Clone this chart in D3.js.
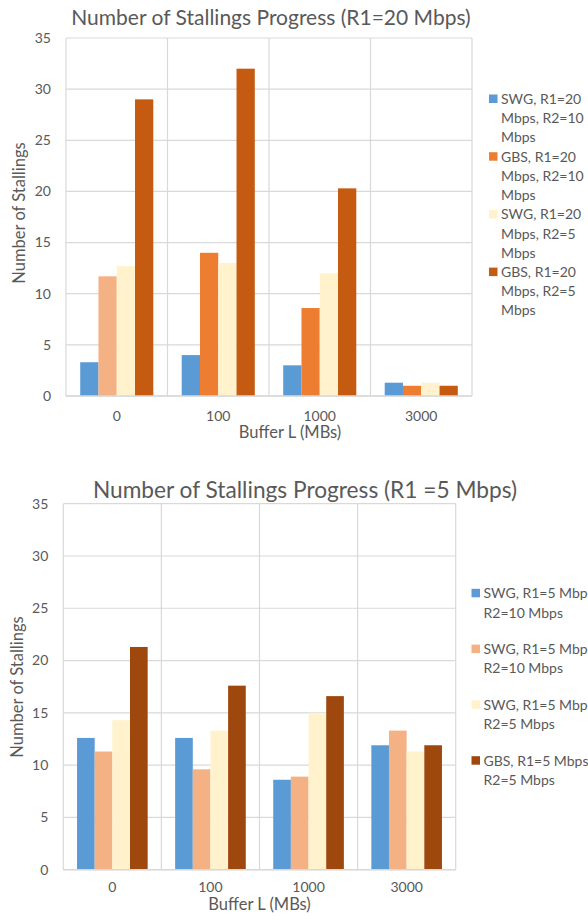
<!DOCTYPE html>
<html>
<head>
<meta charset="utf-8">
<script src="https://cdn.jsdelivr.net/npm/d3@7"></script>
<style>
  html, body { margin: 0; padding: 0; background: #fff; }
  svg { display: block; }
  text { font-family: Lato, "Open Sans", sans-serif; fill: #595959; }
</style>
</head>
<body>
<svg id="chart" width="588" height="916"></svg>
<script>
// Buffer sizes on the category axis (shared by both panels)
const bufferSizes = ["0", "100", "1000", "3000"];
const yTicks = [0, 5, 10, 15, 20, 25, 30, 35];

// Panel 1: R1 = 20 Mbps
const topSeriesNames = [
  ["SWG, R1=20", "Mbps, R2=10", "Mbps"],
  ["GBS, R1=20", "Mbps, R2=10", "Mbps"],
  ["SWG, R1=20", "Mbps, R2=5", "Mbps"],
  ["GBS, R1=20", "Mbps, R2=5", "Mbps"]
];
const topSwgR2_10 = [3.3, 4.0, 3.0, 1.3];
const topGbsR2_10 = [11.7, 14.0, 8.6, 1.0];
const topSwgR2_5  = [12.7, 13.0, 12.0, 1.3];
const topGbsR2_5  = [29.0, 32.0, 20.3, 1.0];

// Panel 2: R1 = 5 Mbps
const bottomSeriesNames = [
  ["SWG, R1=5 Mbps,", "R2=10 Mbps"],
  ["SWG, R1=5 Mbps,", "R2=10 Mbps"],
  ["SWG, R1=5 Mbps,", "R2=5 Mbps"],
  ["GBS, R1=5 Mbps,", "R2=5 Mbps"]
];
const bottomSeries1 = [12.6, 12.6, 8.6, 11.9];
const bottomSeries2 = [11.3, 9.6, 8.9, 13.3];
const bottomSeries3 = [14.3, 13.3, 15.0, 11.3];
const bottomSeries4 = [21.3, 17.6, 16.6, 11.9];

const svg = d3.select("#chart");

function drawPanel(cfg) {
  const g = svg.append("g");
  const x = d3.scaleBand().domain(bufferSizes).range([cfg.left, cfg.right]).paddingInner(0).paddingOuter(0);
  const groupW = x.bandwidth() * 0.72;
  const xs = d3.scaleBand().domain(d3.range(cfg.series.length))
    .range([(x.bandwidth() - groupW) / 2, (x.bandwidth() + groupW) / 2]);
  const y = d3.scaleLinear().domain([0, 35]).range([cfg.bottom, cfg.top]);

  // horizontal gridlines
  g.append("g").selectAll("line").data(yTicks).join("line")
    .attr("x1", cfg.left).attr("x2", cfg.right)
    .attr("y1", d => y(d)).attr("y2", d => y(d))
    .attr("stroke", "#D9D9D9").attr("stroke-width", 1.2);

  // vertical category separators
  const seps = bufferSizes.map(c => x(c)).concat([cfg.right]);
  g.append("g").selectAll("line").data(seps).join("line")
    .attr("x1", d => d).attr("x2", d => d)
    .attr("y1", cfg.top).attr("y2", cfg.bottom)
    .attr("stroke", "#D9D9D9").attr("stroke-width", 1.2);

  // bars
  cfg.series.forEach((vals, si) => {
    g.append("g").selectAll("rect").data(vals).join("rect")
      .attr("x", (d, i) => x(bufferSizes[i]) + xs(si))
      .attr("width", xs.bandwidth())
      .attr("y", d => y(d))
      .attr("height", d => y(0) - y(d))
      .attr("fill", (d, i) => (cfg.pointColors && cfg.pointColors[si] && cfg.pointColors[si][i]) || cfg.colors[si]);
  });

  // baseline
  g.append("line")
    .attr("x1", cfg.left).attr("x2", cfg.right)
    .attr("y1", y(0)).attr("y2", y(0))
    .attr("stroke", "#D9D9D9").attr("stroke-width", 1.5);

  // y tick labels
  g.append("g").selectAll("text").data(yTicks).join("text")
    .attr("x", cfg.left - 15).attr("y", d => y(d))
    .attr("dy", "0.35em").attr("text-anchor", "end")
    .style("font-size", cfg.tickSize + "px")
    .text(d => d);

  // x tick labels
  g.append("g").selectAll("text").data(bufferSizes).join("text")
    .attr("x", d => x(d) + x.bandwidth() / 2).attr("y", cfg.xTickY)
    .attr("text-anchor", "middle")
    .style("font-size", cfg.tickSize + "px")
    .text(d => d);

  // axis titles
  g.append("text")
    .attr("x", cfg.xTitleX).attr("y", cfg.xTitleY)
    .attr("text-anchor", "middle")
    .style("font-size", cfg.axisTitleSize + "px")
    .text("Buffer L (MBs)");
  g.append("text")
    .attr("transform", `translate(${cfg.yTitleX},${cfg.yTitleY}) rotate(-90)`)
    .attr("text-anchor", "middle")
    .attr("dy", "0.35em")
    .style("font-size", cfg.axisTitleSize + "px")
    .text("Number of Stallings");

  // chart title
  g.append("text")
    .attr("x", cfg.titleX).attr("y", cfg.titleY)
    .attr("text-anchor", "middle")
    .style("font-size", cfg.titleSize + "px")
    .text(cfg.title);

  // legend
  const lg = g.append("g");
  cfg.names.forEach((lines, si) => {
    const cy = cfg.legendY + si * cfg.legendStep;
    lg.append("rect")
      .attr("x", cfg.legendX).attr("y", cy - 4.5)
      .attr("width", 8.5).attr("height", 8.5)
      .attr("fill", cfg.colors[si]);
    lines.forEach((ln, li) => {
      lg.append("text")
        .attr("x", cfg.legendX + 12).attr("y", cy + li * cfg.legendLine)
        .attr("dy", "0.35em")
        .style("font-size", cfg.legendSize + "px")
        .text(ln);
    });
  });
}

drawPanel({
  title: "Number of Stallings Progress (R1=20 Mbps)",
  left: 66, right: 472, top: 38, bottom: 396,
  series: [topSwgR2_10, topGbsR2_10, topSwgR2_5, topGbsR2_5],
  colors: ["#5B9BD5", "#ED7D31", "#FFF2CC", "#C55A11"],
  pointColors: [null, ["#F4B183"], null, null],
  names: topSeriesNames,
  tickSize: 14, axisTitleSize: 16.5, titleSize: 21, legendSize: 14,
  xTickY: 420.5, xTitleX: 290, xTitleY: 438,
  yTitleX: 19, yTitleY: 213,
  titleX: 271, titleY: 25,
  legendX: 489, legendY: 99, legendStep: 57.7, legendLine: 19.2
});

drawPanel({
  title: "Number of Stallings Progress (R1 =5 Mbps)",
  left: 63.3, right: 455.7, top: 503.7, bottom: 869.7,
  series: [bottomSeries1, bottomSeries2, bottomSeries3, bottomSeries4],
  colors: ["#5B9BD5", "#F4B183", "#FFF2CC", "#9E480E"],
  names: bottomSeriesNames,
  tickSize: 14, axisTitleSize: 16.5, titleSize: 22.7, legendSize: 14,
  xTickY: 892, xTitleX: 259.5, xTitleY: 910,
  yTitleX: 17, yTitleY: 687,
  titleX: 305, titleY: 498,
  legendX: 471.5, legendY: 593.3, legendStep: 55.8, legendLine: 19.3
});
</script>
</body>
</html>
